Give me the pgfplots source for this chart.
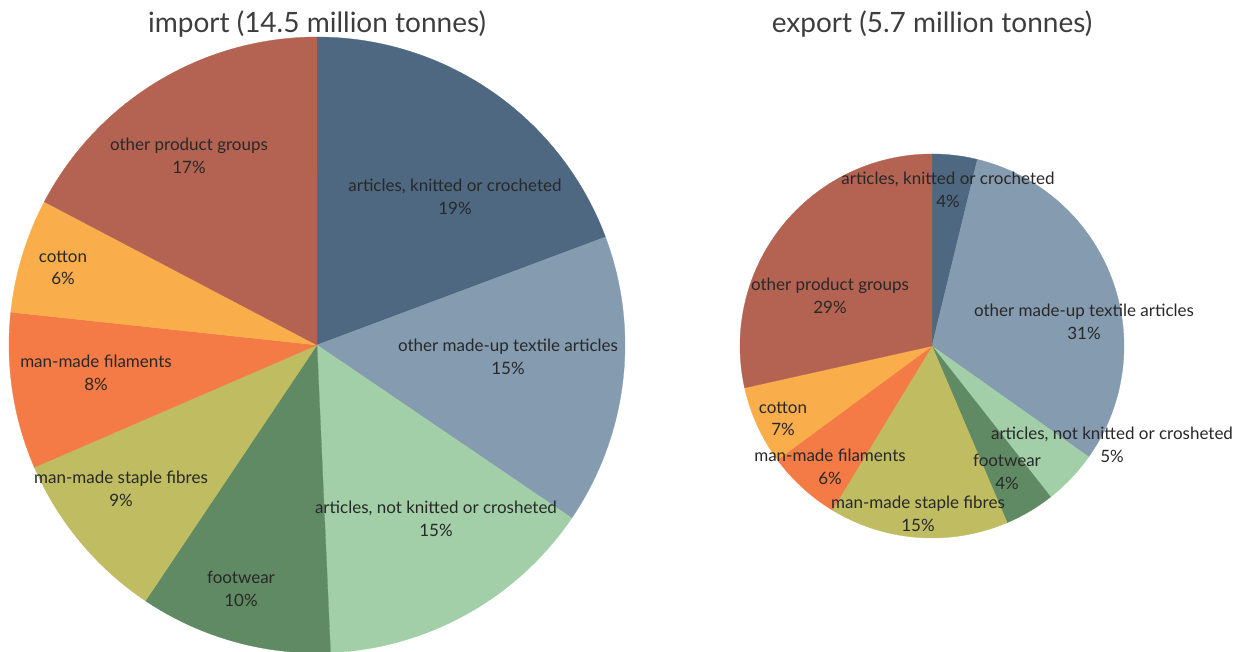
\documentclass[border=0pt]{standalone}
\usepackage{pgfplots}
\pgfplotsset{compat=1.18}
\usepackage{fontspec}
\setmainfont{Lato}

\definecolor{knit}{RGB}{78,104,129}
\definecolor{madeup}{RGB}{132,155,176}
\definecolor{notknit}{RGB}{162,206,168}
\definecolor{foot}{RGB}{96,138,99}
\definecolor{staple}{RGB}{191,188,98}
\definecolor{filam}{RGB}{244,123,69}
\definecolor{cotton}{RGB}{249,174,75}
\definecolor{other}{RGB}{180,99,82}
\definecolor{txt}{RGB}{40,40,40}

\tikzset{
  lbl/.style={font=\fontsize{17}{22.5}\selectfont, text=txt, align=center, inner sep=0pt},
  ttl/.style={font=\fontsize{28}{32}\selectfont, text=txt!90, inner sep=0pt},
}

% one pie: centre x, centre y, radius, list of share/colour (clockwise from 12 o'clock)
\newcommand\pie[4]{%
  \xdef\acc{0}%
  \foreach \s/\c in {#4} {%
    \pgfmathsetmacro\aend{\acc+\s}%
    \edef\doit{\noexpand\addplot[fill=\c, draw=\c, line width=0.3pt, domain=\acc:\aend, samples=90, variable=\noexpand\t]
      ({#1+#3*sin(3.6*\noexpand\t)}, {#2+#3*cos(3.6*\noexpand\t)}) -- (axis cs:#1,#2) -- cycle;}%
    \doit
    \xdef\acc{\aend}%
  }%
}

\begin{document}
\begin{tikzpicture}
\begin{axis}[
    width=1248pt, height=652pt,
    scale only axis,
    xmin=0, xmax=1248,
    ymin=0, ymax=652,
    hide axis,
    clip=false,
]

% import (14.5 million tonnes)
\pie{317}{307}{308}{19.3/knit, 15.2/madeup, 14.8/notknit, 10.1/foot, 9.1/staple, 8.2/filam, 6.0/cotton, 17.3/other}
% export (5.7 million tonnes)
\pie{932}{306}{192}{3.8/knit, 31.0/madeup, 4.6/notknit, 4.2/foot, 15.1/staple, 6.2/filam, 6.6/cotton, 28.5/other}

\node[ttl] at (axis cs:317,628) {import (14.5 million tonnes)};
\node[ttl] at (axis cs:932,628) {export (5.7 million tonnes)};

\node[lbl] at (axis cs:455,455) {articles, knitted or crocheted\\19\%};
\node[lbl] at (axis cs:508,295) {other made-up textile articles\\15\%};
\node[lbl] at (axis cs:436,133) {articles, not knitted or crosheted\\15\%};
\node[lbl] at (axis cs:241,63) {footwear\\10\%};
\node[lbl] at (axis cs:121,163) {man-made staple fibres\\9\%};
\node[lbl] at (axis cs:96,279) {man-made filaments\\8\%};
\node[lbl] at (axis cs:63,384) {cotton\\6\%};
\node[lbl] at (axis cs:189,496) {other product groups\\17\%};

\node[lbl] at (axis cs:948,462) {articles, knitted or crocheted\\4\%};
\node[lbl] at (axis cs:1084,330) {other made-up textile articles\\31\%};
\node[lbl] at (axis cs:1112,207) {articles, not knitted or crosheted\\5\%};
\node[lbl] at (axis cs:1007,180) {footwear\\4\%};
\node[lbl] at (axis cs:918,138) {man-made staple fibres\\15\%};
\node[lbl] at (axis cs:830,185) {man-made filaments\\6\%};
\node[lbl] at (axis cs:783,233) {cotton\\7\%};
\node[lbl] at (axis cs:830,356) {other product groups\\29\%};
\end{axis}
\pgfresetboundingbox
\path[use as bounding box] (current axis.south west) rectangle (current axis.north east);
\end{tikzpicture}
\end{document}
